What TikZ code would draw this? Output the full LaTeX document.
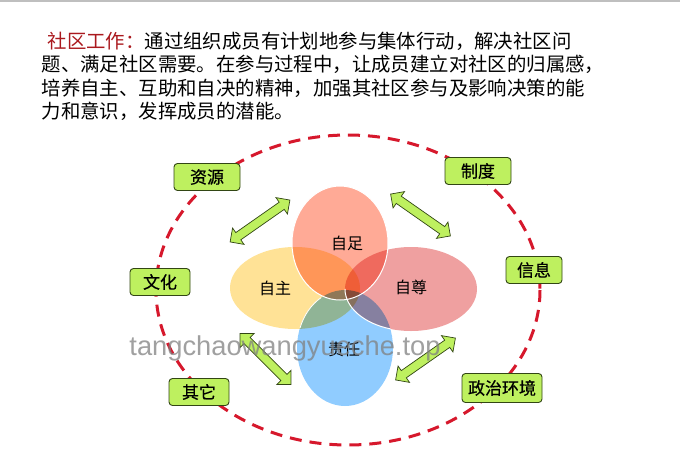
\documentclass[tikz,border=0pt]{standalone}
\usepackage{fontspec}
\setmainfont{Noto Sans CJK SC}
\newfontfamily\markfont{Liberation Sans}
\newfontfamily\tagfont[FakeBold=0.5]{Noto Sans CJK SC}
\usetikzlibrary{shapes.geometric,shapes.arrows}
\definecolor{ringred}{RGB}{214,24,44}
\definecolor{boxgreen}{RGB}{190,240,95}
\definecolor{boxline}{RGB}{50,70,20}
\definecolor{headred}{RGB}{170,25,30}
\definecolor{petaltop}{RGB}{255,170,150}
\definecolor{petalleft}{RGB}{255,226,150}
\definecolor{petalright}{RGB}{239,160,160}
\definecolor{petalbottom}{RGB}{144,204,255}
\tikzset{
  tagbox/.style={draw=boxline,fill=boxgreen,rounded corners=3.5pt,line width=0.9pt,minimum height=27pt,inner sep=0pt,font=\tagfont\fontsize{17}{17}\selectfont,text=black},
  swaparrow/.style={double arrow,draw=boxline,fill=boxgreen,line width=0.7pt,minimum width=20pt,minimum height=73pt,double arrow head extend=3pt,inner sep=2pt},
  petaltext/.style={font=\fontsize{16}{16}\selectfont,text=black}
}
\begin{document}
\begin{tikzpicture}[x=1pt,y=-1pt]
\useasboundingbox (0,0) rectangle (680,472);
\fill[black!25!white] (0,0) rectangle (680,2);
\path (41.5,76.5)node[anchor=west,align=left,inner sep=0pt,font=\fontsize{19.4}{23.4}\selectfont] (intro)
{\hspace{6pt}\textcolor{headred}{社区工作：}通过组织成员有计划地参与集体行动，解决社区问\\
题、满足社区需要。在参与过程中，让成员建立对社区的归属感，\\
培养自主、互助和自决的精神，加强其社区参与及影响决策的能\\
力和意识，发挥成员的潜能。};
% ring
\draw[ringred,line width=3pt,dash pattern=on 12pt off 8pt] (348,290) ellipse [x radius=192,y radius=155];
% petals
\begin{scope}[blend mode=multiply]
\fill[petalleft] (295,288) ellipse [x radius=65,y radius=41];
\fill[petalbottom] (345,348) ellipse [x radius=48,y radius=58];
\fill[petaltop] (340,243) ellipse [x radius=48,y radius=57];
\fill[petalright] (411,289) ellipse [x radius=66,y radius=42];
\end{scope}
\draw[white,line width=1pt] (340,243) ellipse [x radius=48,y radius=57];
\draw[white,line width=1pt] (345,289) arc [start angle=180,end angle=108,x radius=66,y radius=42];
\draw[white,line width=.8pt] (300,328) arc [start angle=200,end angle=240,x radius=48,y radius=58];
\path (347,243)node[petaltext] (selfsuff) {自足};
\path (275,288)node[petaltext] (selfrule) {自主};
\path (411,287)node[petaltext] (selfrespect) {自尊};
\path (344,349)node[petaltext] (duty) {责任};
% arrows
\path (260,221)node[swaparrow,rotate=35] (arrowA) {};
\path (420.5,215)node[swaparrow,rotate=-35] (arrowB) {};
\path (265.5,359)node[swaparrow,rotate=-45,minimum height=72pt] (arrowC) {};
\path (425.5,359)node[swaparrow,rotate=35] (arrowD) {};
% tags
\path (207,177)node[tagbox,minimum width=66pt] (resource) {资源};
\path (478,171)node[tagbox,minimum width=66pt] (system) {制度};
\path (160,282)node[tagbox,minimum width=60pt] (culture) {文化};
\path (534,270)node[tagbox,minimum width=56pt] (info) {信息};
\path (199,392)node[tagbox,minimum width=60pt] (other) {其它};
\path (502,388)node[tagbox,minimum width=80pt,minimum height=29pt] (politics) {政治环境};
% watermark
\path (285,348)node[font=\markfont\fontsize{27.3}{27.3}\selectfont,text=black!50!white,text opacity=.75] (mark) {tangchaowangyueche.top};
\end{tikzpicture}
\end{document}
